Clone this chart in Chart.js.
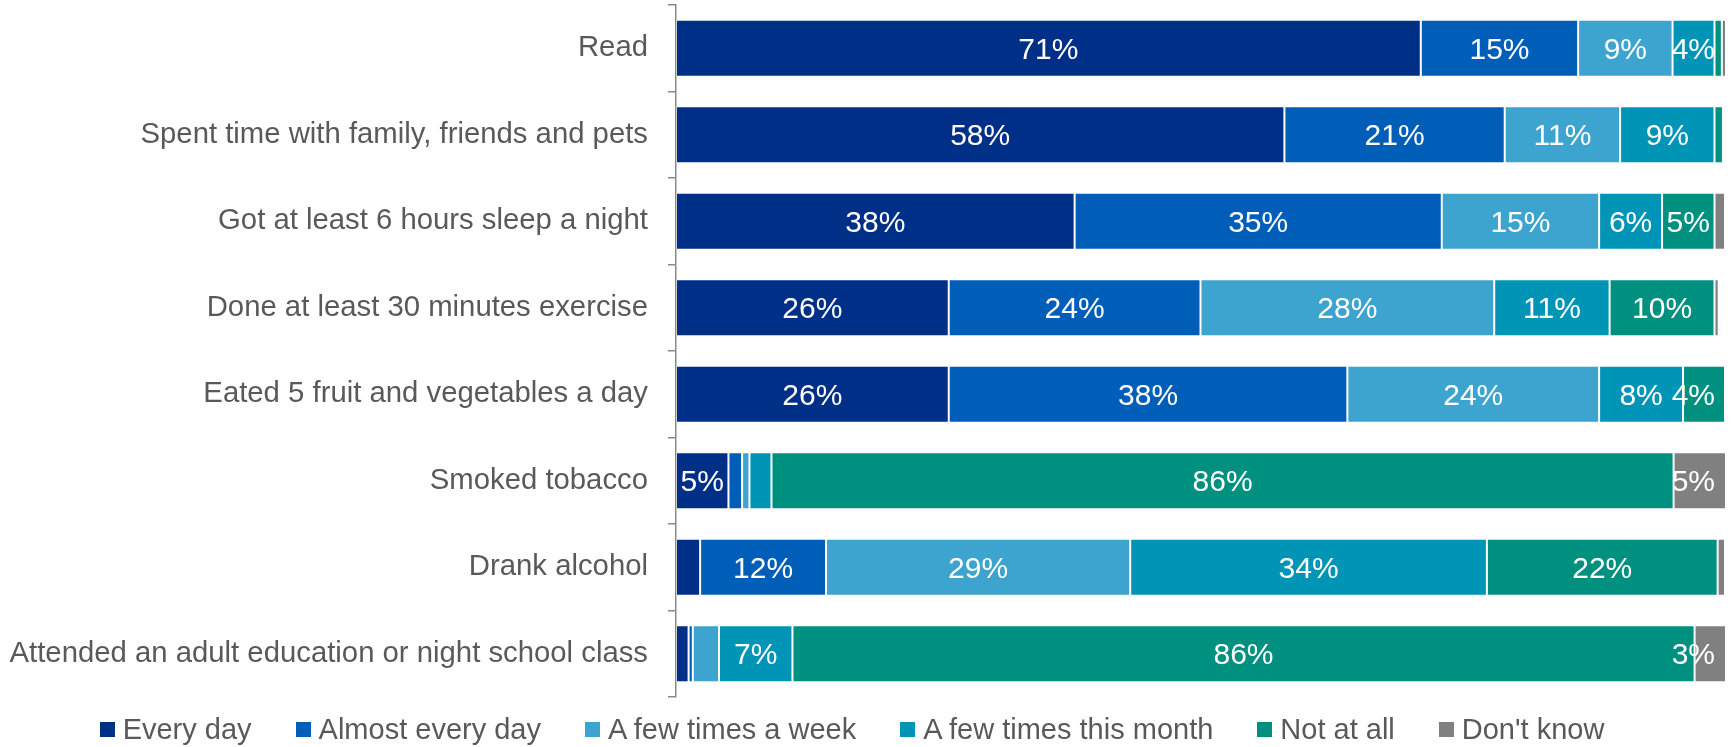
<!DOCTYPE html>
<html>
<head>
<meta charset="utf-8">
<script src="https://cdn.jsdelivr.net/npm/chart.js@4/dist/chart.umd.min.js"></script>
<style>
  body { margin: 0; background: #fff; }
  #wrap { position: relative; width: 1732px; height: 747px; }
  #legend {
    position: absolute; left: 0; right: 0; top: 713px;
    display: flex; justify-content: center; align-items: center;
    font-family: "Liberation Sans", Arial, sans-serif; font-size: 29px; color: #595959;
    padding-right: 28px;
  }
  #legend .item { display: flex; align-items: center; margin: 0 22px; }
  #legend .box { width: 15px; height: 15px; margin-right: 8px; }
</style>
</head>
<body>
<div id="wrap">
  <canvas id="activityChart"></canvas>
  <div id="legend"></div>
</div>
<script>
const categories = [
    "Read",
    "Spent time with family, friends and pets",
    "Got at least 6 hours sleep a night",
    "Done at least 30 minutes exercise",
    "Eated 5 fruit and vegetables a day",
    "Smoked tobacco",
    "Drank alcohol",
    "Attended an adult education or night school class"
];

const seriesNames = ["Every day", "Almost every day", "A few times a week", "A few times this month", "Not at all", "Don't know"];

const everyDay       = [71, 58, 38, 26, 26, 5, 2.3, 1.2];
const almostEveryDay = [15, 21, 35, 24, 38, 1.3, 12, 0.4];
const fewTimesWeek   = [9, 11, 15, 28, 24, 0.7, 29, 2.5];
const fewTimesMonth  = [4, 9, 6, 11, 8, 2.1, 34, 7];
const notAtAll       = [0.7, 0.8, 5, 10, 4, 86, 22, 86];
const dontKnow       = [0.4, 0, 1, 0.4, 0, 5, 0.7, 3];

const seriesColors = ["#002F87", "#005EB8", "#3DA3CF", "#0094B6", "#00907F", "#808080"];

Chart.defaults.font.family = '"Liberation Sans", Arial, sans-serif';

// white percentage text in the middle of each segment that is big enough
const segmentLabels = {
    id: "segmentLabels",
    afterDatasetsDraw(chart) {
        const { ctx, chartArea } = chart;
        ctx.save();
        ctx.font = '30px "Liberation Sans", Arial, sans-serif';
        ctx.fillStyle = "#ffffff";
        ctx.textAlign = "center";
        ctx.textBaseline = "middle";
        chart.data.datasets.forEach((ds, i) => {
            chart.getDatasetMeta(i).data.forEach((bar, j) => {
                const v = ds.data[j];
                if (v < 3) return;
                const text = v + "%";
                const w = ctx.measureText(text).width;
                let x = (bar.x + bar.base) / 2;
                x = Math.min(x, chartArea.right - 10 - w / 2);
                ctx.fillText(text, x, bar.y + 2);
            });
        });
        ctx.restore();
    }
};

const allSeries = [everyDay, almostEveryDay, fewTimesWeek, fewTimesMonth, notAtAll, dontKnow];

const chart = new Chart(document.getElementById("activityChart").getContext("2d"), {
    type: "bar",
    data: {
        labels: categories,
        datasets: allSeries.map((values, i) => ({
            label: seriesNames[i],
            data: values,
            backgroundColor: seriesColors[i],
            borderColor: "rgba(255,255,255,0.16)",
            borderWidth: 1,
            borderSkipped: false,
            barPercentage: 0.66,
            categoryPercentage: 1
        }))
    },
    options: {
        indexAxis: "y",
        responsive: true,
        maintainAspectRatio: false,
        animation: false,
        layout: { padding: { top: 5, right: 7, bottom: 50, left: 0 } },
        plugins: {
            legend: { display: false },
            tooltip: { enabled: false }
        },
        scales: {
            x: {
                stacked: true,
                min: 0,
                max: 100,
                display: false
            },
            y: {
                stacked: true,
                grid: {
                    drawOnChartArea: false,
                    drawTicks: true,
                    tickLength: 8,
                    color: "#898989",
                    lineWidth: 1.5
                },
                border: { color: "#898989", width: 1.5 },
                ticks: {
                    color: "#595959",
                    font: { size: 29.3 },
                    padding: 20
                },
                // fixed label column, no extra space above/below the bars
                afterFit(scale) {
                    scale.width = 676;
                    scale.paddingTop = 0;
                    scale.paddingBottom = 0;
                }
            }
        }
    },
    plugins: [segmentLabels]
});

// legend built from the datasets
const legendEl = document.getElementById("legend");
chart.data.datasets.forEach(ds => {
    const item = document.createElement("div");
    item.className = "item";
    const box = document.createElement("span");
    box.className = "box";
    box.style.background = ds.backgroundColor;
    const label = document.createElement("span");
    label.textContent = ds.label;
    item.appendChild(box);
    item.appendChild(label);
    legendEl.appendChild(item);
});
</script>
</body>
</html>
